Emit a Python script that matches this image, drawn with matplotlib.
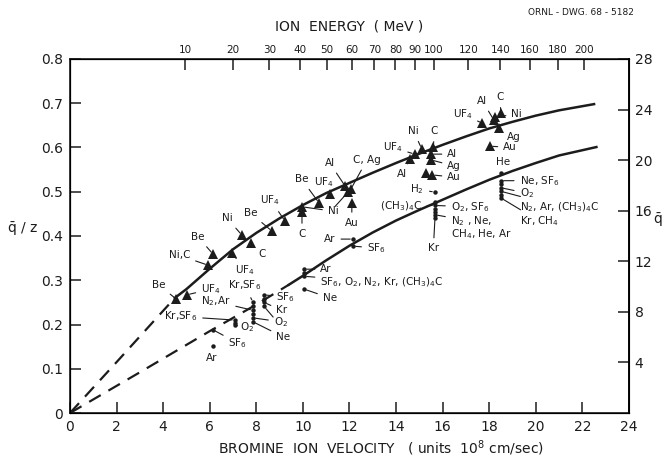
import numpy as np
import matplotlib
matplotlib.use("Agg")
import matplotlib.pyplot as plt

plt.rcParams["font.family"] = ["DejaVu Sans"]
plt.rcParams["mathtext.default"] = "regular"

# -------------------------------------------------------------------------
# Data (v in 1e8 cm/sec, q/z)
# -------------------------------------------------------------------------
upper_dash_v = [0.0, 2.0, 4.5]
upper_dash_q = [0.0, 0.115, 0.26]
upper_v = [4.5, 5.0, 6.0, 7.0, 8.0, 9.0, 10.0, 11.0, 12.0, 13.0, 14.0, 15.0,
           16.0, 17.0, 18.0, 19.0, 20.0, 21.0, 22.5]
upper_q = [0.26, 0.28, 0.326, 0.37, 0.407, 0.44, 0.47, 0.497, 0.52, 0.543, 0.565,
           0.586, 0.606, 0.625, 0.643, 0.658, 0.672, 0.684, 0.698]

lower_dash_v = [0.0, 3.0, 6.0, 8.0, 9.4]
lower_dash_q = [0.0, 0.092, 0.185, 0.245, 0.29]
lower_v = [9.4, 10.0, 11.0, 12.0, 13.0, 14.0, 15.0, 16.0, 17.0, 18.0, 19.0,
           20.0, 21.0, 22.6]
lower_q = [0.29, 0.31, 0.345, 0.378, 0.408, 0.435, 0.459, 0.482, 0.505, 0.527,
           0.547, 0.565, 0.582, 0.601]

# solid targets (triangles)
tri_v = [4.55, 5.02, 5.93, 6.14, 6.96, 7.38, 7.77, 8.67, 9.23, 9.96, 9.96,
         10.69, 11.16, 11.81, 12.06, 11.95, 12.1, 14.6, 14.8, 15.1, 15.6, 15.5,
         15.5, 15.3, 15.55, 17.7, 18.2, 18.5, 18.25, 18.43, 18.03]
tri_q = [0.258, 0.267, 0.334, 0.359, 0.362, 0.402, 0.384, 0.411, 0.434, 0.466,
         0.454, 0.475, 0.495, 0.513, 0.506, 0.50, 0.475, 0.573, 0.585, 0.597,
         0.602, 0.585, 0.572, 0.543, 0.538, 0.655, 0.662, 0.678, 0.669, 0.644,
         0.603]

# gas targets (dots)
dot_v = [6.14, 6.14,
         7.08, 7.08, 7.08,
         7.86, 7.86, 7.86, 7.86, 7.86, 7.86,
         8.33, 8.33, 8.33, 8.33,
         10.05, 10.05, 10.05, 10.05,
         12.15, 12.15,
         15.67, 15.67, 15.67, 15.67, 15.67, 15.67, 15.67,
         18.5, 18.5, 18.5, 18.5, 18.5, 18.5, 18.5]
dot_q = [0.151, 0.188,
         0.21, 0.204, 0.198,
         0.25, 0.241, 0.232, 0.224, 0.215, 0.206,
         0.267, 0.258, 0.25, 0.241,
         0.325, 0.316, 0.309, 0.28,
         0.393, 0.377,
         0.499, 0.476, 0.469, 0.462, 0.455, 0.448, 0.441,
         0.542, 0.525, 0.517, 0.509, 0.501, 0.493, 0.486]

energy_ticks = [10, 20, 30, 40, 50, 60, 70, 80, 90, 100, 120, 140, 160, 180, 200]
vel_ticks = list(range(0, 25, 2))
qz_ticks = [0, 0.1, 0.2, 0.3, 0.4, 0.5, 0.6, 0.7, 0.8]
qz_labels = ["0", "0.1", "0.2", "0.3", "0.4", "0.5", "0.6", "0.7", "0.8"]
qbar_ticks = [4, 8, 12, 16, 20, 24, 28]

# -------------------------------------------------------------------------
# Labels: (text, marker set, index, text position, alignment)
# an empty text only adds another leader line to the label before it
# -------------------------------------------------------------------------
UF4 = "UF$_4$"
SF6 = "SF$_6$"
labels = [
    ("Be", "t", 0, (3.8, 0.29), "center"),
    (UF4, "t", 1, (6.05, 0.28), "center"),
    ("Ni,C", "t", 2, (4.7, 0.356), "center"),
    ("Be", "t", 3, (5.5, 0.398), "center"),
    (UF4, "t", 4, (7.5, 0.322), "center"),
    ("Ni", "t", 5, (6.75, 0.44), "center"),
    ("C", "t", 6, (8.25, 0.36), "center"),
    ("Be", "t", 7, (7.75, 0.452), "center"),
    (UF4, "t", 8, (8.6, 0.482), "center"),
    ("C", "t", 10, (9.96, 0.405), "center"),
    ("Ni", "t", 9, (11.3, 0.456), "center"),
    ("", "t", 15, (11.3, 0.462), "center"),
    ("Be", "t", 11, (9.95, 0.528), "center"),
    (UF4, "t", 12, (10.9, 0.522), "center"),
    ("Al", "t", 13, (11.15, 0.565), "center"),
    ("C, Ag", "t", 14, (12.75, 0.572), "center"),
    ("Au", "t", 16, (12.1, 0.43), "center"),
    ("Al", "t", 17, (14.25, 0.54), "center"),
    (UF4, "t", 18, (13.85, 0.6), "center"),
    ("Ni", "t", 19, (14.75, 0.637), "center"),
    ("C", "t", 20, (15.65, 0.637), "center"),
    ("Al", "t", 21, (16.2, 0.585), "left"),
    ("Ag", "t", 22, (16.2, 0.558), "left"),
    ("Au", "t", 24, (16.2, 0.533), "left"),
    (UF4, "t", 25, (16.85, 0.675), "center"),
    ("Al", "t", 26, (17.7, 0.705), "center"),
    ("C", "t", 27, (18.45, 0.714), "center"),
    ("Ni", "t", 28, (18.95, 0.675), "left"),
    ("Ag", "t", 29, (18.75, 0.624), "left"),
    ("Au", "t", 30, (18.6, 0.6), "left"),
    # gases
    ("Ar", "d", 0, (6.1, 0.125), "center"),
    (SF6, "d", 1, (6.8, 0.158), "left"),
    ("Kr,SF$_6$", "d", 2, (4.75, 0.218), "center"),
    ("O$_2$", "d", 4, (7.3, 0.195), "left"),
    ("N$_2$,Ar", "d", 7, (6.25, 0.252), "center"),
    ("Kr,SF$_6$", "d", 5, (7.5, 0.288), "center"),
    ("O$_2$", "d", 9, (8.75, 0.206), "left"),
    ("", "d", 14, (8.8, 0.212), "left"),
    ("Ne", "d", 10, (8.85, 0.172), "left"),
    (SF6, "d", 11, (8.85, 0.262), "left"),
    ("Kr", "d", 13, (8.85, 0.232), "left"),
    ("Ar", "d", 15, (10.75, 0.325), "left"),
    (SF6 + ", O$_2$, N$_2$, Kr, (CH$_3$)$_4$C", "d", 17, (10.75, 0.295), "left"),
    ("Ne", "d", 18, (10.85, 0.26), "left"),
    ("Ar", "d", 19, (11.4, 0.393), "right"),
    (SF6, "d", 20, (12.75, 0.373), "left"),
    ("H$_2$", "d", 21, (15.2, 0.506), "right"),
    ("(CH$_3$)$_4$C", "d", 23, (15.1, 0.468), "right"),
    ("O$_2$, " + SF6, "d", 23, (16.35, 0.466), "left"),
    ("N$_2$ , Ne,", "d", 26, (16.35, 0.433), "left"),
    ("CH$_4$, He, Ar", "d", 27, (16.35, 0.405), None),
    ("Kr", "d", 27, (15.6, 0.372), "center"),
    ("He", "d", 28, (18.6, 0.567), "center"),
    ("Ne, " + SF6, "d", 29, (19.3, 0.525), "left"),
    ("O$_2$", "d", 31, (19.3, 0.497), "left"),
    ("N$_2$, Ar, (CH$_3$)$_4$C", "d", 32, (19.3, 0.466), "left"),
    ("Kr, CH$_4$", "d", 34, (19.3, 0.434), "left"),
]

ink = "#1c1c1c"
fig = plt.figure(figsize=(6.64, 4.59), dpi=100)
ax = fig.add_axes([0.1054, 0.1002, 0.8419, 0.7713])

# Curves
dash = dict(color=ink, lw=1.6, linestyle=(0, (6, 4)))
ax.plot(upper_dash_v, upper_dash_q, **dash)
ax.plot(lower_dash_v, lower_dash_q, **dash)
ax.plot(upper_v, upper_q, color=ink, lw=1.8)
ax.plot(lower_v, lower_q, color=ink, lw=1.8)

# Points
ax.plot(tri_v, tri_q, "^", color=ink, ms=6.5, mew=0)
ax.plot(dot_v, dot_q, "o", color=ink, ms=3.2, mew=0)

# Labels with leader lines
for text, kind, i, (tx, ty), ha in labels:
    px, py = (tri_v[i], tri_q[i]) if kind == "t" else (dot_v[i], dot_q[i])
    if ha is None:
        ax.text(tx, ty, text, ha="left", va="center", fontsize=7.5, color=ink)
        continue
    ax.annotate(text, xy=(px, py), xytext=(tx, ty), ha=ha, va="center",
                fontsize=7.5, color=ink,
                arrowprops=dict(arrowstyle="-", color=ink, lw=0.8,
                                shrinkA=2, shrinkB=2))

# Axes formatting
ax.set_xlim(0, 24)
ax.set_ylim(0, 0.8)
ax.set_xticks(vel_ticks)
ax.set_yticks(qz_ticks)
ax.set_yticklabels(qz_labels)
for s in ax.spines.values():
    s.set_color(ink)
    s.set_linewidth(1.2)
ax.tick_params(direction="in", length=8, width=1.1, colors=ink, labelsize=10,
               pad=5)
ax.set_xlabel("BROMINE  ION  VELOCITY   ( units  10$^8$ cm/sec)", fontsize=10,
              color=ink)
ax.xaxis.set_label_coords(0.556, -0.072)
ax.text(-0.085, 0.52, r"$\bar{q}$ / z", transform=ax.transAxes, fontsize=10,
        color=ink, ha="center", va="center")

# Right axis: mean charge
axr = ax.twinx()
axr.set_ylim(0, 28)
axr.set_yticks(qbar_ticks)
axr.tick_params(direction="in", length=8, width=1.1, colors=ink, labelsize=10,
                pad=4)
axr.spines["right"].set_linewidth(1.2)
fig.text(0.99, 0.52, r"$\bar{q}$", fontsize=10, color=ink, ha="center",
         va="center")

# Top axis: ion energy (E = 0.41 v^2 MeV)
axt = ax.twiny()
axt.set_xlim(0, 24)
axt.set_xticks([np.sqrt(e / 0.41) for e in energy_ticks])
axt.set_xticklabels([str(e) for e in energy_ticks])
axt.tick_params(direction="in", length=8, width=1.1, colors=ink, labelsize=7.5,
                pad=3)
axt.set_xlabel("ION  ENERGY  ( MeV )", fontsize=10, color=ink, labelpad=10)

fig.text(0.955, 0.972, "ORNL - DWG. 68 - 5182", fontsize=6.5, color=ink,
         ha="right", va="center")

fig.savefig("out.png", dpi=100, facecolor="white")
